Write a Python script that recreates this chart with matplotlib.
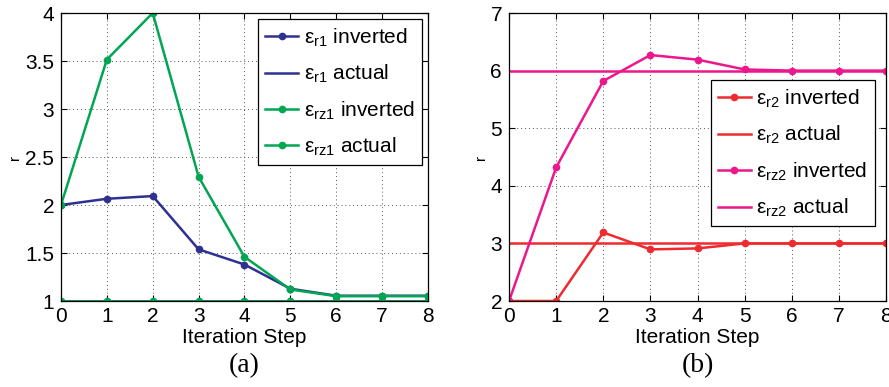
import matplotlib
matplotlib.use('Agg')
import matplotlib.pyplot as plt

plt.rcParams['font.family'] = ['Liberation Sans', 'DejaVu Sans']
plt.rcParams['mathtext.fontset'] = 'custom'
plt.rcParams['mathtext.rm'] = 'Liberation Sans'
plt.rcParams['mathtext.it'] = 'Liberation Sans:italic'

steps = [0, 1, 2, 3, 4, 5, 6, 7, 8]

# panel (a)
er1_inv = [2.0, 2.065, 2.093, 1.538, 1.38, 1.128, 1.055, 1.055, 1.055]
erz1_inv = [2.0, 3.515, 4.0, 2.294, 1.46, 1.12, 1.05, 1.05, 1.05]
er1_act = [1.0] * 9
erz1_act = [1.0] * 9

# panel (b)
er2_inv = [2.0, 2.0, 3.19, 2.896, 2.913, 3.0, 3.0, 3.0, 3.0]
erz2_inv = [2.0, 4.32, 5.82, 6.27, 6.19, 6.02, 6.0, 6.0, 6.0]
er2_act = [3.0] * 9
erz2_act = [6.0] * 9

BLUE = '#2e3192'
GREEN = '#00a651'
RED = '#ee2b2e'
PINK = '#ec178c'


def style_axes(ax, yticks, ylabels):
    ax.set_xlim(0, 8)
    ax.set_xticks(steps)
    ax.set_yticks(yticks)
    ax.set_yticklabels(ylabels)
    ax.tick_params(direction='in', top=True, right=True, labelsize=15,
                   length=4, width=0.8)
    ax.tick_params(axis='x', pad=4)
    ax.tick_params(axis='y', pad=5)
    ax.grid(True, linestyle=(0, (1, 3)), color='#555555', linewidth=0.7)
    for s in ax.spines.values():
        s.set_linewidth(0.9)
    ax.set_xlabel('Iteration Step', fontsize=15, labelpad=2)
    ax.set_ylabel('r', fontsize=11, labelpad=2)


def lab(sub, word):
    return r'$\mathrm{\varepsilon}_{\mathrm{' + sub + '}}$ ' + word


def add_legend(ax, anchor):
    leg = ax.legend(loc='upper right', bbox_to_anchor=anchor, fontsize=15,
                    frameon=True, fancybox=False, edgecolor='black', framealpha=1,
                    handlelength=1.6, handletextpad=0.25, labelspacing=0.68,
                    borderpad=0.35, borderaxespad=0)
    leg.get_frame().set_linewidth(0.9)
    return leg


fig = plt.figure(figsize=(8.89, 3.87), dpi=100)

ax1 = fig.add_axes([0.0686, 0.2222, 0.4128, 0.7442])
ax1.plot(steps, er1_inv, '-o', color=BLUE, lw=1.8, ms=4.5, label=lab('r1', 'inverted'))
ax1.plot(steps, er1_act, '-', color=BLUE, lw=1.8, label=lab('r1', 'actual'))
ax1.plot(steps, erz1_inv, '-o', color=GREEN, lw=1.8, ms=4.5, label=lab('rz1', 'inverted'))
ax1.plot(steps, erz1_act, '-o', color=GREEN, lw=1.8, ms=4.5, label=lab('rz1', 'actual'))
ax1.set_ylim(1, 4)
style_axes(ax1, [1, 1.5, 2, 2.5, 3, 3.5, 4], ['1', '1.5', '2', '2.5', '3', '3.5', '4'])
add_legend(ax1, (0.984, 0.979))

ax2 = fig.add_axes([0.5726, 0.2222, 0.4241, 0.7442])
ax2.plot(steps, er2_inv, '-o', color=RED, lw=1.8, ms=4.5, label=lab('r2', 'inverted'))
ax2.plot(steps, er2_act, '-', color=RED, lw=1.8, label=lab('r2', 'actual'))
ax2.plot(steps, erz2_inv, '-o', color=PINK, lw=1.8, ms=4.5, label=lab('rz2', 'inverted'))
ax2.plot(steps, erz2_act, '-', color=PINK, lw=1.8, label=lab('rz2', 'actual'))
ax2.set_ylim(2, 7)
style_axes(ax2, [2, 3, 4, 5, 6, 7], ['2', '3', '4', '5', '6', '7'])
add_legend(ax2, (0.97, 0.767))

fig.text(0.2750, 0.055, '(a)', fontsize=20, family='Liberation Serif', ha='center', va='center')
fig.text(0.7846, 0.055, '(b)', fontsize=20, family='Liberation Serif', ha='center', va='center')

fig.savefig('out.png', dpi=100)
